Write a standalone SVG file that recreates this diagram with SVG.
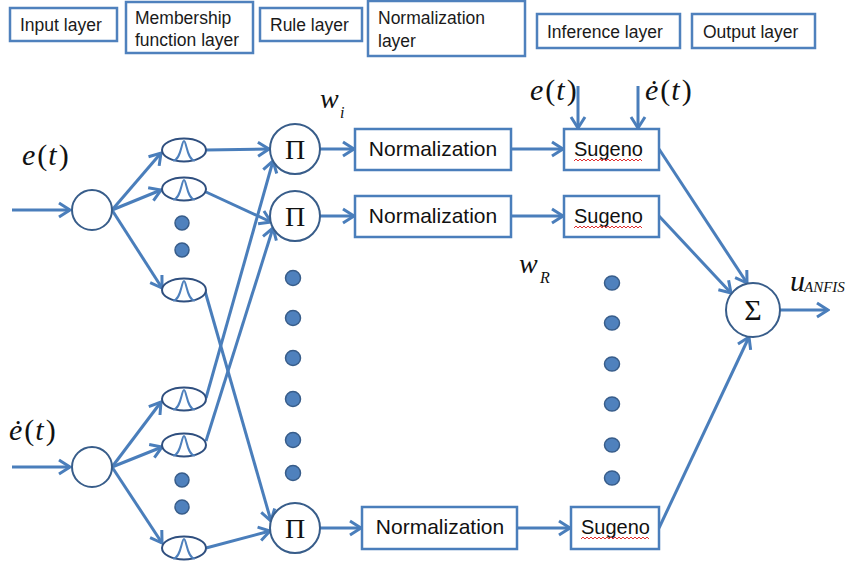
<svg xmlns="http://www.w3.org/2000/svg" width="849" height="565" viewBox="0 0 849 565">
<style>
.lbl{fill:#fff;stroke:#4F81BD;stroke-width:2.5}
.lt{font-family:"Liberation Sans",Arial,sans-serif;font-size:17.5px;fill:#1a1a1a}
.box{fill:#fff;stroke:#4A7EBB;stroke-width:2.5}
.bt{font-family:"Liberation Sans",Arial,sans-serif;font-size:21px;fill:#111}
.st{font-family:"Liberation Sans",Arial,sans-serif;font-size:20px;fill:#111}
.nd{fill:#fff;stroke:#385D8A;stroke-width:2}
.mf{fill:#fff;stroke:#2F4F7F;stroke-width:2}
.bump{fill:none;stroke:#4F81BD;stroke-width:2}
.dot{fill:#4F81BD;stroke:#385D8A;stroke-width:1.5}
.c{fill:none;stroke:#4A7EBB;stroke-width:3;marker-end:url(#ah)}
.m{font-family:"Liberation Serif","Times New Roman",serif;fill:#111}
.i{font-style:italic}
.sym{font-family:"Liberation Serif","Times New Roman",serif;font-size:28px;fill:#111;text-anchor:middle}
.sq{fill:none;stroke:#E03030;stroke-width:1}
</style>
<defs>
<marker id="ah" viewBox="-14 -10 16 20" refX="0" refY="0" markerWidth="16" markerHeight="20" markerUnits="userSpaceOnUse" orient="auto">
<path d="M-11,-7 L0,0 L-11,7" fill="none" stroke="#4A7EBB" stroke-width="3"/>
</marker>
<g id="mfs">
<ellipse cx="0" cy="0" rx="22" ry="11.5" class="mf"/>
<path class="bump" d="M-11,10.5 C-3,10.5 -2.5,-9 0,-9 C2.5,-9 3,10.5 11,10.5"/>
</g>
<path id="sqg" class="sq" d="M0,0 l2,-2 l2,2 l2,-2 l2,2 l2,-2 l2,2 l2,-2 l2,2 l2,-2 l2,2 l2,-2 l2,2 l2,-2 l2,2 l2,-2 l2,2 l2,-2 l2,2 l2,-2 l2,2 l2,-2 l2,2 l2,-2 l2,2 l2,-2 l2,2 l2,-2 l2,2 l2,-2 l2,2 l2,-2 l2,2 l2,-2 l2,2"/>
</defs>

<g id="layer-labels">
<g id="lbl-input"><rect class="lbl" x="10" y="8" width="107" height="33"/><text class="lt" x="20" y="31">Input layer</text></g>
<g id="lbl-mf"><rect class="lbl" x="126" y="2" width="127" height="51"/><text class="lt" x="135" y="24">Membership</text><text class="lt" x="135" y="46">function layer</text></g>
<g id="lbl-rule"><rect class="lbl" x="260" y="8" width="102" height="33"/><text class="lt" x="270" y="31">Rule layer</text></g>
<g id="lbl-norm"><rect class="lbl" x="368" y="1" width="157" height="55"/><text class="lt" x="378" y="24">Normalization</text><text class="lt" x="378" y="47">layer</text></g>
<g id="lbl-inf"><rect class="lbl" x="537" y="14" width="143" height="34"/><text class="lt" x="547" y="38">Inference layer</text></g>
<g id="lbl-out"><rect class="lbl" x="692" y="14" width="123" height="34"/><text class="lt" x="703" y="38">Output layer</text></g>
</g>

<g id="connectors">
<path class="c" d="M12,210 L70,210"/>
<path class="c" d="M12,467 L70,467"/>
<path class="c" d="M112,210 L161,153"/>
<path class="c" d="M112,210 L161,190"/>
<path class="c" d="M112,210 L162,288"/>
<path class="c" d="M112,467 L161,402"/>
<path class="c" d="M112,467 L162,447"/>
<path class="c" d="M112,467 L162,543"/>
<path class="c" d="M206,150 L269,149"/>
<path class="c" d="M206,192 L271,222"/>
<path class="c" d="M205,291 L271,521"/>
<path class="c" d="M206,398 L273,161"/>
<path class="c" d="M206,441 L273,228"/>
<path class="c" d="M206,548 L270,531"/>
<path class="c" d="M320,149 L354,149"/>
<path class="c" d="M320,216 L354,216"/>
<path class="c" d="M320,528 L361,528"/>
<path class="c" d="M511,149 L563,149"/>
<path class="c" d="M511,216 L563,216"/>
<path class="c" d="M517,528 L570,528"/>
<path class="c" d="M578,86 L578,128"/>
<path class="c" d="M638,86 L638,128"/>
<path class="c" d="M659,149 L747,283"/>
<path class="c" d="M659,216 L731,293"/>
<path class="c" d="M659,528 L749,337"/>
<path class="c" d="M780,310 L828,310"/>
</g>

<g id="in-e"><circle class="nd" cx="92" cy="210" r="20"/></g>
<g id="in-edot"><circle class="nd" cx="92" cy="467" r="20"/></g>

<g id="mf-e1"><use href="#mfs" x="184" y="150"/></g>
<g id="mf-e2"><use href="#mfs" x="184" y="189"/></g>
<g id="mf-e3"><use href="#mfs" x="184" y="290"/></g>
<g id="mf-d1"><use href="#mfs" x="184" y="399"/></g>
<g id="mf-d2"><use href="#mfs" x="184" y="445"/></g>
<g id="mf-d3"><use href="#mfs" x="184" y="548"/></g>

<g id="rule1"><circle class="nd" cx="295" cy="149" r="25"/><text class="sym" x="295" y="159">Π</text></g>
<g id="rule2"><circle class="nd" cx="295" cy="216" r="25"/><text class="sym" x="295" y="226">Π</text></g>
<g id="ruleR"><circle class="nd" cx="295" cy="528" r="25"/><text class="sym" x="295" y="538">Π</text></g>

<g id="norm1"><rect class="box" x="355" y="129" width="156" height="41"/><text class="bt" x="433" y="156" text-anchor="middle">Normalization</text></g>
<g id="norm2"><rect class="box" x="355" y="196" width="156" height="41"/><text class="bt" x="433" y="223" text-anchor="middle">Normalization</text></g>
<g id="normR"><rect class="box" x="362" y="507" width="155" height="42"/><text class="bt" x="440" y="534" text-anchor="middle">Normalization</text></g>

<g id="sug1"><rect class="box" x="564" y="129" width="95" height="41"/><text class="st" x="574" y="156">Sugeno</text><use href="#sqg" x="574" y="161"/></g>
<g id="sug2"><rect class="box" x="564" y="196" width="95" height="41"/><text class="st" x="574" y="223">Sugeno</text><use href="#sqg" x="574" y="228"/></g>
<g id="sugR"><rect class="box" x="571" y="507" width="88" height="42"/><text class="st" x="581" y="534">Sugeno</text><use href="#sqg" x="581" y="539"/></g>

<g id="sum"><circle class="nd" cx="753" cy="310" r="27"/><text class="sym" x="753" y="320" style="font-size:30px">Σ</text></g>

<g id="dots">
<circle class="dot" cx="182" cy="223" r="7"/>
<circle class="dot" cx="182" cy="250" r="7"/>
<circle class="dot" cx="182" cy="480" r="7"/>
<circle class="dot" cx="182" cy="507" r="7"/>
<circle class="dot" cx="293" cy="278" r="7.5"/>
<circle class="dot" cx="293" cy="318" r="7.5"/>
<circle class="dot" cx="293" cy="358" r="7.5"/>
<circle class="dot" cx="293" cy="399" r="7.5"/>
<circle class="dot" cx="293" cy="440" r="7.5"/>
<circle class="dot" cx="293" cy="473" r="7.5"/>
<ellipse class="dot" cx="612" cy="283" rx="7.5" ry="7"/>
<ellipse class="dot" cx="612" cy="323" rx="7.5" ry="7"/>
<ellipse class="dot" cx="612" cy="364" rx="7.5" ry="7"/>
<ellipse class="dot" cx="612" cy="404" rx="7.5" ry="7"/>
<ellipse class="dot" cx="612" cy="445" rx="7.5" ry="7"/>
<ellipse class="dot" cx="612" cy="478" rx="7.5" ry="7"/>
</g>

<g id="math-labels">
<text class="m" x="22" y="165" style="font-size:30px"><tspan class="i">e</tspan><tspan dx="2">(</tspan><tspan class="i" dx="1">t</tspan><tspan dx="2">)</tspan></text>
<text class="m" x="9" y="440" style="font-size:30px"><tspan class="i">ė</tspan><tspan dx="2">(</tspan><tspan class="i" dx="1">t</tspan><tspan dx="2">)</tspan></text>
<text class="m" x="530" y="100" style="font-size:30px"><tspan class="i">e</tspan><tspan dx="2">(</tspan><tspan class="i" dx="1">t</tspan><tspan dx="2">)</tspan></text>
<text class="m" x="645" y="100" style="font-size:30px"><tspan class="i">ė</tspan><tspan dx="2">(</tspan><tspan class="i" dx="1">t</tspan><tspan dx="2">)</tspan></text>
<text class="m i" x="320" y="108" style="font-size:28px">w</text><text class="m i" x="340" y="118" style="font-size:16px">i</text>
<text class="m i" x="519" y="273" style="font-size:28px">w</text><text class="m i" x="540" y="283" style="font-size:16px">R</text>
<text class="m i" x="790" y="291" style="font-size:30px">u</text><text class="m i" x="804" y="292" style="font-size:15px">ANFIS</text>
</g>
</svg>
